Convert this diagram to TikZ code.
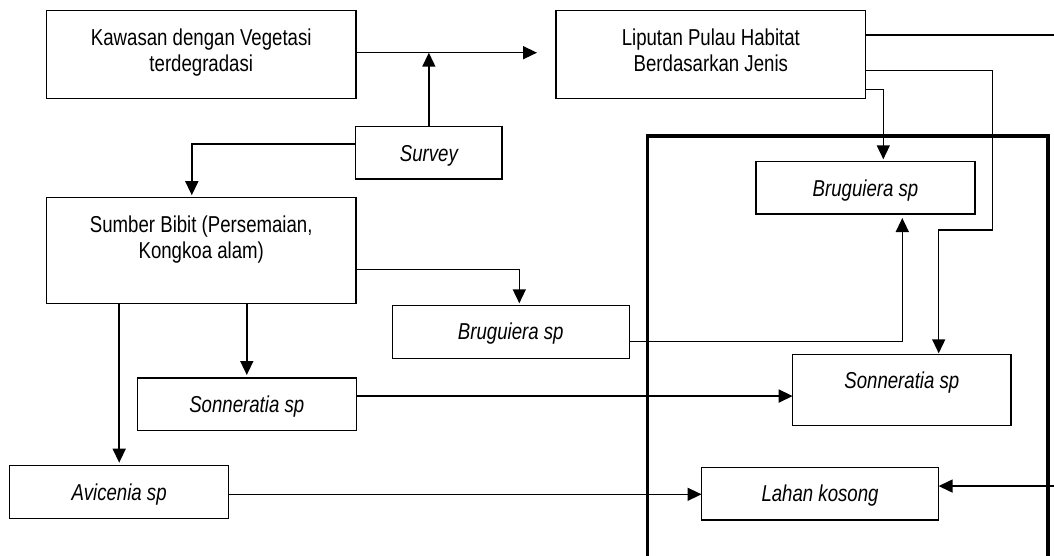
\documentclass[tikz,border=0pt]{standalone}
\usepackage{fontspec}
\setmainfont{Liberation Sans}[FakeStretch=0.81]
\usetikzlibrary{arrows.meta}

% a text box of fixed size, text set from the top, centred
\newcommand{\boxtext}[3]{%
  \begin{minipage}[c][#2pt][t]{#1pt}\centering
  \fontsize{23}{26.7}\selectfont\rule{0pt}{34.5pt}#3\end{minipage}}

\tikzset{
  box/.style={draw, line width=1.5pt, inner sep=0pt, outer sep=0pt, anchor=north west},
  arr/.style={line width=1.5pt, -{Triangle[length=14pt,width=13pt]}},
  frame/.style={line width=3.2pt}
}

\begin{document}
\begin{tikzpicture}[x=1pt,y=-1pt]
\useasboundingbox (0,0) rectangle (1054,555);
\clip (0,0) rectangle (1054,555);
\fill[white] (0,0) rectangle (1054,555);

% planting area
\draw[frame] (647.5,136) rectangle (1048,620);

% boxes
\node[box] (kaw) at (46.5,10.7)  {\boxtext{309.5}{87.6}{Kawasan dengan Vegetasi\\terdegradasi}};
\node[box] (lip) at (556,10.7)   {\boxtext{309.7}{87.6}{Liputan Pulau Habitat\\Berdasarkan Jenis}};
\node[box] (srv) at (355.7,126.7){\boxtext{146.3}{52.3}{\itshape Survey}};
\node[box] (smb) at (46.5,197.7) {\boxtext{309.5}{105.6}{Sumber Bibit (Persemaian,\\Kongkoa alam)}};
\node[box] (br1) at (392.3,305.3){\boxtext{237}{53}{\itshape Bruguiera sp}};
\node[box] (br2) at (756,161.7)  {\boxtext{219}{52.3}{\itshape Bruguiera sp}};
\node[box] (sn1) at (137.3,378)  {\boxtext{219}{52.7}{\itshape Sonneratia sp}};
\node[box] (sn2) at (792.7,354.3){\boxtext{218.3}{71}{\itshape Sonneratia sp}};
\node[box] (av)  at (9.7,465.7)  {\boxtext{219}{52.6}{\itshape Avicenia sp}};
\node[box] (lah) at (701.5,467.3){\boxtext{237.1}{52.7}{\itshape Lahan kosong}};

% connection points
\coordinate (k1) at ([yshift=1.8pt]kaw.east);
\coordinate (s1) at ([yshift=8.8pt]srv.west);
\coordinate (s2) at ([xshift=145.3pt]smb.north west);
\coordinate (m1) at ([yshift=-18.8pt]smb.east);
\coordinate (m2) at ([xshift=127pt]br1.north west);
\coordinate (n1) at ([yshift=8.3pt]sn1.east);
\coordinate (a1) at ([yshift=-2.3pt]av.east);
\coordinate (b1) at ([yshift=-9.9pt]br1.east);
\coordinate (b2) at ([xshift=146.3pt]br2.south west);
\coordinate (l1) at ([yshift=-34.8pt]lip.east);
\coordinate (l2) at ([xshift=127.3pt]br2.north west);
\coordinate (l3) at ([yshift=-16.2pt]lip.east);
\coordinate (l4) at (992.7,230);
\coordinate (l5) at ([xshift=146pt]sn2.north west);
\coordinate (l6) at ([yshift=19.5pt]lip.east);
\coordinate (l7) at (1064,250);
\coordinate (h1) at ([yshift=7.6pt]lah.east);

% connectors
\draw[arr, shorten >=19pt] (k1) -- (k1 -| lip.west);
\draw[arr] (srv.north) -- (srv.north |- k1);
\draw[arr, shorten >=2.5pt] (s1) -| (s2);
\draw[arr, shorten >=2pt] (m1) -| (m2);
\draw[arr, shorten >=3pt] (av.north |- smb.south) -- (av.north);
\draw[arr, shorten >=3pt] (sn1.north |- smb.south) -- (sn1.north);
\draw[arr] (n1) -- (n1 -| sn2.west);
\draw[arr] (a1) -- (a1 -| lah.west);
\draw[arr, shorten >=4pt] (b1) -| (b2);
\draw[arr, shorten >=2.4pt] (l1) -| (l2);
\draw[arr, shorten >=1pt] (l3) -| (l4) -| (l5);
\draw[arr] (l6) -| (l7) |- (h1);
\end{tikzpicture}
\end{document}
